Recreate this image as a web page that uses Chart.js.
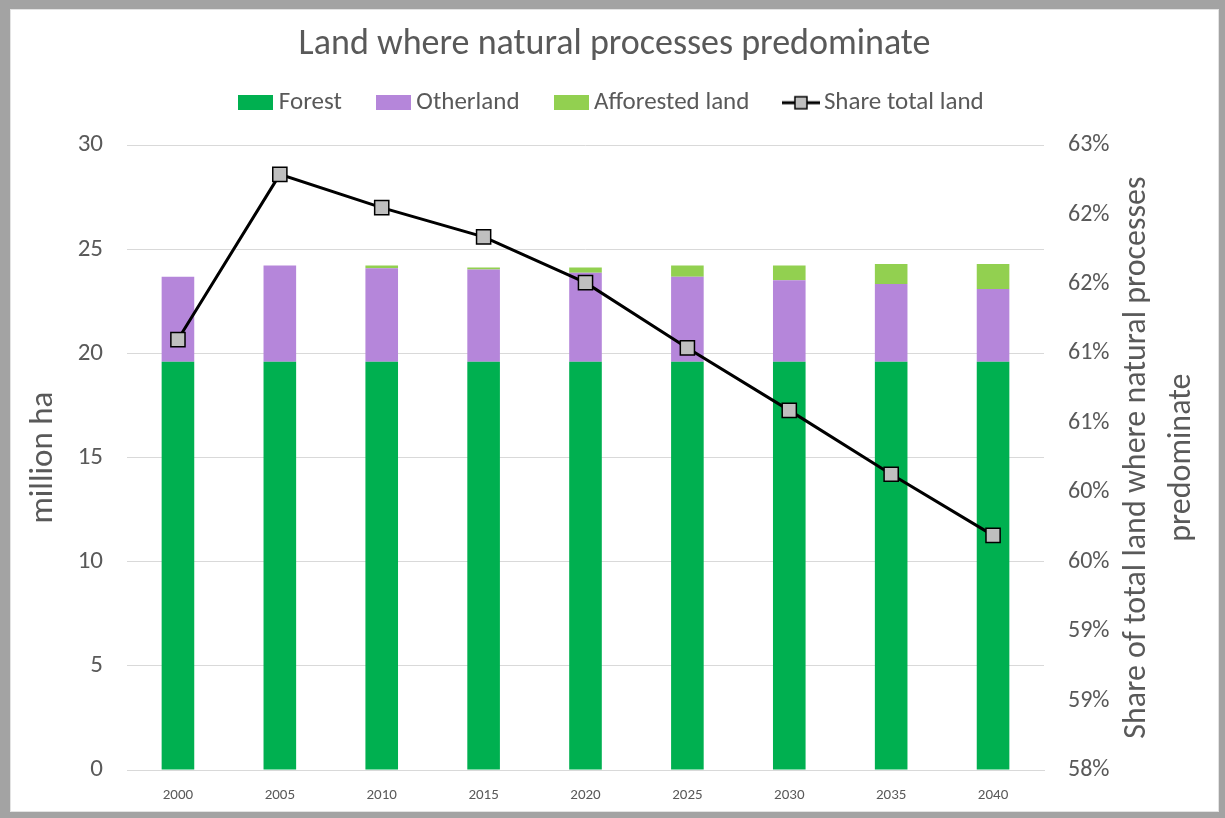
<!DOCTYPE html>
<html>
<head>
<meta charset="utf-8">
<title>Land where natural processes predominate</title>
<script src="https://cdn.jsdelivr.net/npm/chart.js@4/dist/chart.umd.min.js"></script>
<style>
  html, body { margin: 0; padding: 0; }
  body { width: 1225px; height: 818px; background: #a3a3a3; position: relative; overflow: hidden; }
  #frame {
    position: absolute; left: 10px; top: 9px; width: 1209px; height: 803px;
    background: #fff; box-shadow: inset 0 0 0 1px #e3e3e3;
  }
  #frame canvas { display: block; }
</style>
</head>
<body>
<div id="frame"><canvas id="landChart" width="1209" height="803"></canvas></div>
<script>
// data
const years = ["2000", "2005", "2010", "2015", "2020", "2025", "2030", "2035", "2040"];
const forest = [19.6, 19.6, 19.6, 19.6, 19.6, 19.6, 19.6, 19.6, 19.6];
const otherland = [4.08, 4.62, 4.49, 4.43, 4.27, 4.08, 3.92, 3.74, 3.49];
const afforested = [0, 0, 0.13, 0.1, 0.26, 0.54, 0.7, 0.96, 1.21];
const shareTotal = [61.10, 62.29, 62.05, 61.84, 61.51, 61.04, 60.59, 60.13, 59.69];

const leftTicks = [0, 5, 10, 15, 20, 25, 30];
const rightMin = 58, rightMax = 62.5, rightStep = 0.5;

const textColor = "#595959";
const fontFamily = "Carlito, Lato, 'Open Sans', sans-serif";

// legend icons, drawn once on small canvases
function boxIcon(color) {
  const c = document.createElement("canvas");
  c.width = 35; c.height = 15;
  const g = c.getContext("2d");
  g.fillStyle = color;
  g.fillRect(0, 0, 35, 15);
  return c;
}
function lineIcon() {
  const c = document.createElement("canvas");
  c.width = 38; c.height = 16;
  const g = c.getContext("2d");
  g.strokeStyle = "#000";
  g.lineWidth = 3;
  g.beginPath(); g.moveTo(0, 8); g.lineTo(38, 8); g.stroke();
  g.fillStyle = "#bfbfbf";
  g.fillRect(13, 2, 12, 12);
  g.lineWidth = 1.5;
  g.strokeRect(13, 2, 12, 12);
  return c;
}
const legendIcons = [boxIcon("#00b050"), boxIcon("#b586da"), boxIcon("#92d050"), lineIcon()];

// keep a fixed gap between legend and plot
const legendHeight = {
  id: "legendHeight",
  beforeInit(chart) {
    const fit = chart.legend.fit;
    chart.legend.fit = function () {
      fit.call(this);
      this.height = 96;
    };
  }
};

// right axis title reads bottom to top, like the left one
const rightTitle = {
  id: "rightTitle",
  afterDraw(chart) {
    const s = chart.scales.y1;
    const area = chart.chartArea;
    const ctx = chart.ctx;
    const cy = (area.top + area.bottom) / 2;
    ctx.save();
    ctx.fillStyle = textColor;
    ctx.font = "32px " + fontFamily;
    ctx.textAlign = "center";
    ctx.textBaseline = "middle";
    [["Share of total land where natural processes", 93], ["predominate", 138]].forEach(([txt, dx]) => {
      ctx.save();
      ctx.translate(s.left + dx, cy);
      ctx.rotate(-Math.PI / 2);
      ctx.fillText(txt, 0, 0);
      ctx.restore();
    });
    ctx.restore();
  }
};

const ctx = document.getElementById("landChart").getContext("2d");

new Chart(ctx, {
  type: "bar",
  data: {
    labels: years,
    datasets: [
      { label: "Forest", data: forest, backgroundColor: "#00b050", order: 1, yAxisID: "y" },
      { label: "Otherland", data: otherland, backgroundColor: "#b586da", order: 1, yAxisID: "y" },
      { label: "Afforested land", data: afforested, backgroundColor: "#92d050", order: 1, yAxisID: "y" },
      {
        label: "Share total land",
        type: "line",
        data: shareTotal,
        yAxisID: "y1",
        order: 0,
        borderColor: "#000",
        borderWidth: 3,
        tension: 0,
        pointStyle: "rect",
        pointRadius: 10,
        pointBackgroundColor: "#bfbfbf",
        pointBorderColor: "#000",
        pointBorderWidth: 1.5,
      },
    ],
  },
  options: {
    responsive: false,
    animation: false,
    layout: { padding: 0 },
    datasets: {
      bar: { barPercentage: 0.32, categoryPercentage: 1 },
    },
    plugins: {
      tooltip: { enabled: false },
      title: {
        display: true,
        text: "Land where natural processes predominate",
        color: textColor,
        font: { family: fontFamily, size: 36, weight: "normal", lineHeight: 1.2 },
        padding: { top: 14, bottom: -17 },
      },
      legend: {
        display: true,
        position: "top",
        labels: {
          usePointStyle: true,
          pointStyleWidth: 21,
          padding: 41,
          color: textColor,
          font: { family: fontFamily, size: 25 },
          generateLabels: (chart) => chart.data.datasets.map((ds, i) => ({
            text: ds.label,
            pointStyle: legendIcons[i],
            fontColor: textColor,
            datasetIndex: i,
            hidden: false,
            lineWidth: 0,
          })),
        },
      },
    },
    scales: {
      x: {
        stacked: true,
        grid: { display: false, drawTicks: false },
        border: { display: true, color: "#d9d9d9", width: 1 },
        ticks: { color: textColor, font: { family: fontFamily, size: 15 }, padding: 16, maxRotation: 0 },
        afterFit: (s) => { s.height = 42; },
      },
      y: {
        stacked: true,
        position: "left",
        min: 0,
        max: 30,
        afterBuildTicks: (s) => { s.ticks = leftTicks.map((v) => ({ value: v })); },
        grid: { color: "#d9d9d9", lineWidth: 1, drawTicks: false },
        border: { display: false },
        ticks: { color: textColor, font: { family: fontFamily, size: 25 }, padding: 24 },
        title: {
          display: true,
          text: "million ha",
          color: textColor,
          font: { family: fontFamily, size: 33 },
          padding: { top: 14, bottom: 0 },
        },
        afterFit: (s) => { s.width = 117; },
      },
      y1: {
        position: "right",
        min: rightMin,
        max: rightMax,
        grid: { drawOnChartArea: false, drawTicks: false },
        border: { display: false },
        ticks: {
          stepSize: rightStep,
          color: textColor,
          font: { family: fontFamily, size: 24 },
          padding: 24,
          callback: (v) => Math.round(v) + "%",
        },
        afterFit: (s) => { s.width = 175; },
      },
    },
  },
  plugins: [legendHeight, rightTitle],
});
</script>
</body>
</html>
